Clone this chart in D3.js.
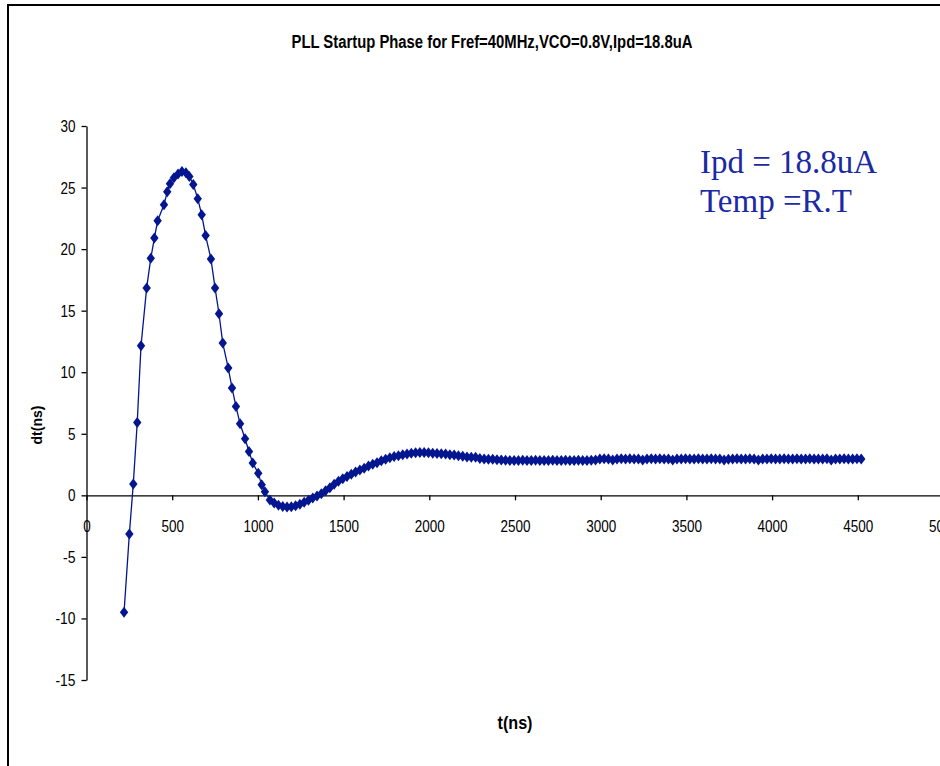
<!DOCTYPE html>
<html lang="en">
<head>
    <meta charset="UTF-8">
    <title>PLL Startup Phase</title>
    <script src="https://d3js.org/d3.v7.min.js"></script>
    <style>
        body { margin: 0; background: white; }
        .tick text {
            font-family: "Liberation Sans", Arial, sans-serif;
            font-size: 17px;
            fill: black;
        }
        .axis path, .axis line { stroke: black; stroke-width: 1.3; }
    </style>
</head>
<body>
    <svg id="chart" width="940" height="766"></svg>

    <script>
        // time of each sample (ns)
        const timeNs = [
            219, 250, 273, 296, 318, 351, 375, 396, 415, 452, 471, 487, 510, 534, 557, 580, 600, 623,
            649, 672, 695, 726, 750, 773, 795, 827, 849, 872, 896, 925, 948, 970, 1002, 1022, 1041, 1070,
            1095, 1120, 1145, 1170, 1195, 1220, 1245, 1270, 1295, 1320, 1345, 1370, 1395, 1420, 1445, 1470,
            1495, 1520, 1545, 1570, 1595, 1620, 1645, 1670, 1695, 1720, 1745, 1770, 1795, 1820, 1845, 1870,
            1895, 1920, 1945, 1970, 1995, 2020, 2045, 2070, 2095, 2120, 2145, 2170, 2195, 2220, 2245, 2270,
            2295, 2320, 2345, 2370, 2395, 2420, 2445, 2470, 2495, 2520, 2545, 2570, 2595, 2620, 2645, 2670,
            2695, 2720, 2745, 2770, 2795, 2820, 2845, 2870, 2895, 2920, 2945, 2970, 2995, 3020, 3045, 3070,
            3095, 3120, 3145, 3170, 3195, 3220, 3245, 3270, 3295, 3320, 3345, 3370, 3395, 3420, 3445, 3470,
            3495, 3520, 3545, 3570, 3595, 3620, 3645, 3670, 3695, 3720, 3745, 3770, 3795, 3820, 3845, 3870,
            3895, 3920, 3945, 3970, 3995, 4020, 4045, 4070, 4095, 4120, 4145, 4170, 4195, 4220, 4245, 4270,
            4295, 4320, 4345, 4370, 4395, 4420, 4445, 4470, 4495, 4520
        ];

        // phase difference dt (ns)
        const dtNs = [
            -9.5, -3.15, 0.93, 5.92, 12.15, 16.85, 19.25, 20.9, 22.3, 23.6, 24.65, 25.3, 25.8, 26.1, 26.3, 26.2, 25.9, 25.25,
            24.1, 22.8, 21.1, 19.2, 16.85, 14.75, 12.37, 10.34, 8.72, 7.22, 5.81, 4.59, 3.56, 2.62, 1.8, 0.85, 0.3, -0.37,
            -0.62, -0.8, -0.9, -0.95, -0.93, -0.85, -0.72, -0.57, -0.4, -0.22, -0.05, 0.13, 0.38, 0.62, 0.9, 1.15,
            1.35, 1.52, 1.72, 1.9, 2.05, 2.2, 2.38, 2.52, 2.65, 2.8, 2.93, 3.05, 3.15, 3.22, 3.3, 3.36,
            3.42, 3.46, 3.48, 3.47, 3.45, 3.42, 3.4, 3.38, 3.35, 3.3, 3.27, 3.22, 3.17, 3.12, 3.1, 3.1,
            3.0, 2.95, 2.93, 2.93, 2.9, 2.86, 2.84, 2.83, 2.83, 2.82, 2.84, 2.83, 2.82, 2.84, 2.83, 2.83,
            2.82, 2.84, 2.83, 2.82, 2.84, 2.83, 2.83, 2.84, 2.82, 2.83, 2.84, 2.86, 2.95, 2.97, 2.96, 2.88,
            2.95, 2.97, 2.96, 2.97, 2.95, 2.96, 2.87, 2.95, 2.97, 2.96, 2.97, 2.95, 2.96, 2.87, 2.95, 2.96,
            2.97, 2.96, 2.95, 2.97, 2.96, 2.95, 2.97, 2.96, 2.95, 2.86, 2.94, 2.96, 2.97, 2.95, 2.96, 2.97,
            2.95, 2.87, 2.95, 2.96, 2.97, 2.95, 2.96, 2.97, 2.96, 2.95, 2.97, 2.96, 2.95, 2.97, 2.96, 2.95,
            2.96, 2.97, 2.87, 2.95, 2.96, 2.97, 2.95, 2.96, 2.97, 2.96
        ];

        const xTicks = [0, 500, 1000, 1500, 2000, 2500, 3000, 3500, 4000, 4500, 5000];
        const yTicks = [-15, -10, -5, 0, 5, 10, 15, 20, 25, 30];
        const notes = ["Ipd = 18.8uA", "Temp =R.T"];

        const titleText = "PLL Startup Phase for Fref=40MHz,VCO=0.8V,Ipd=18.8uA";
        const blue = "#041590";

        const svg = d3.select("#chart");

        // chart area border (right and bottom edges fall outside the window)
        svg.append("rect")
            .attr("x", 8).attr("y", 5)
            .attr("width", 1000).attr("height", 1000)
            .attr("fill", "white")
            .attr("stroke", "black")
            .attr("stroke-width", 2);

        let x = d3.scaleLinear().domain([0, 5000]).range([86.5, 943.5]);
        let y = d3.scaleLinear().domain([-15, 30]).range([680, 126]);

        // narrow look of the original font: squeeze each label
        function squeeze(sel) {
            sel.selectAll(".tick text")
                .attr("textLength", function () {
                    const s = this.textContent;
                    return s.replace("-", "").length * 7.5 + (s.includes("-") ? 5 : 0);
                })
                .attr("lengthAdjust", "spacingAndGlyphs");
        }

        // title
        svg.append("text")
            .attr("x", 492).attr("y", 48)
            .attr("text-anchor", "middle")
            .attr("textLength", 401)
            .attr("lengthAdjust", "spacingAndGlyphs")
            .style("font-family", "Liberation Sans, Arial, sans-serif")
            .style("font-size", "18px")
            .style("font-weight", "bold")
            .text(titleText);

        // y axis
        svg.append("g")
            .attr("class", "axis")
            .attr("transform", `translate(${x(0)},0)`)
            .call(d3.axisLeft(y).tickValues(yTicks).tickFormat(d => String(d))
                .tickSize(5).tickSizeOuter(0).tickPadding(6))
            .call(squeeze);

        // x axis crosses at dt = 0
        svg.append("g")
            .attr("class", "axis")
            .attr("transform", `translate(0,${y(0)})`)
            .call(d3.axisBottom(x).tickValues(xTicks).tickFormat(d => String(d))
                .tickSize(5).tickSizeOuter(0).tickPadding(20))
            .call(squeeze);

        // axis titles
        svg.append("text")
            .attr("transform", `translate(42,${(y(-15) + y(30)) / 2 + 22}) rotate(-90)`)
            .attr("text-anchor", "middle")
            .style("font-family", "Liberation Sans, Arial, sans-serif")
            .style("font-size", "14px")
            .style("font-weight", "bold")
            .text("dt(ns)");

        svg.append("text")
            .attr("x", 515).attr("y", 729)
            .attr("text-anchor", "middle")
            .attr("textLength", 35)
            .attr("lengthAdjust", "spacingAndGlyphs")
            .style("font-family", "Liberation Sans, Arial, sans-serif")
            .style("font-size", "19px")
            .style("font-weight", "bold")
            .text("t(ns)");

        // series
        const points = timeNs.map((t, i) => ({ t: t, v: dtNs[i] }));

        const line = d3.line()
            .x(d => x(d.t))
            .y(d => y(d.v));

        svg.append("path")
            .datum(points)
            .attr("d", line)
            .attr("fill", "none")
            .attr("stroke", blue)
            .attr("stroke-width", 1.3);

        svg.selectAll(".marker")
            .data(points)
            .enter()
            .append("path")
            .attr("class", "marker")
            .attr("d", "M0,-5.5L4.2,0L0,5.5L-4.2,0Z")
            .attr("transform", d => `translate(${x(d.t)},${y(d.v)})`)
            .attr("fill", blue);

        // annotation
        svg.selectAll(".note")
            .data(notes)
            .enter()
            .append("text")
            .attr("class", "note")
            .attr("x", 700)
            .attr("y", (d, i) => 173 + i * 39)
            .style("font-family", '"Liberation Serif", "Times New Roman", serif')
            .style("font-size", "33px")
            .style("fill", "#1a2aa4")
            .text(d => d);
    </script>
</body>
</html>
